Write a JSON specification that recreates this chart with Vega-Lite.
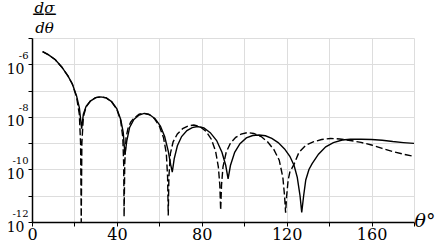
{
  "$schema": "https://vega.github.io/schema/vega-lite/v6.json",
  "width": 382,
  "height": 184,
  "autosize": "none",
  "padding": {"left": 32, "top": 38, "right": 28, "bottom": 20},
  "background": "white",
  "config": {"view": {"stroke": null}},
  "data": {"values": [
    {"x":5,"v":3.02e-6,"s":"solid"},{"x":8,"v":2.24e-6,"s":"solid"},{"x":11,"v":1.48e-6,"s":"solid"},{"x":14,"v":7.94e-7,"s":"solid"},{"x":17,"v":3.55e-7,"s":"solid"},{"x":19,"v":1.78e-7,"s":"solid"},{"x":21,"v":6.31e-8,"s":"solid"},{"x":22.3,"v":2.24e-8,"s":"solid"},{"x":23.4,"v":3.55e-9,"s":"solid"},{"x":24.2,"v":1.26e-8,"s":"solid"},{"x":25.5,"v":2.51e-8,"s":"solid"},{"x":27.5,"v":3.98e-8,"s":"solid"},{"x":30,"v":5.37e-8,"s":"solid"},{"x":32.4,"v":5.75e-8,"s":"solid"},{"x":35,"v":5.25e-8,"s":"solid"},{"x":37.5,"v":3.8e-8,"s":"solid"},{"x":40,"v":2.0e-8,"s":"solid"},{"x":41.8,"v":7.94e-9,"s":"solid"},{"x":43,"v":2.51e-9,"s":"solid"},{"x":43.8,"v":3.55e-10,"s":"solid"},{"x":44.7,"v":1.26e-9,"s":"solid"},{"x":46,"v":3.98e-9,"s":"solid"},{"x":48,"v":7.94e-9,"s":"solid"},{"x":50.5,"v":1.175e-8,"s":"solid"},{"x":52.8,"v":1.35e-8,"s":"solid"},{"x":55.5,"v":1.2e-8,"s":"solid"},{"x":58,"v":8.51e-9,"s":"solid"},{"x":60.5,"v":4.47e-9,"s":"solid"},{"x":62.5,"v":1.78e-9,"s":"solid"},{"x":64.2,"v":5.01e-10,"s":"solid"},{"x":65.3,"v":1.585e-10,"s":"solid"},{"x":66.1,"v":7.94e-11,"s":"solid"},{"x":67,"v":2.51e-10,"s":"solid"},{"x":68.5,"v":7.94e-10,"s":"solid"},{"x":70.5,"v":1.78e-9,"s":"solid"},{"x":73,"v":3.02e-9,"s":"solid"},{"x":75.5,"v":3.89e-9,"s":"solid"},{"x":77.9,"v":4.27e-9,"s":"solid"},{"x":81,"v":3.8e-9,"s":"solid"},{"x":84,"v":2.51e-9,"s":"solid"},{"x":87,"v":1.26e-9,"s":"solid"},{"x":89.5,"v":4.47e-10,"s":"solid"},{"x":91.3,"v":1.41e-10,"s":"solid"},{"x":92.4,"v":4.37e-11,"s":"solid"},{"x":93.5,"v":1.41e-10,"s":"solid"},{"x":95.5,"v":4.47e-10,"s":"solid"},{"x":98,"v":9.55e-10,"s":"solid"},{"x":101,"v":1.585e-9,"s":"solid"},{"x":104,"v":1.95e-9,"s":"solid"},{"x":107,"v":2.04e-9,"s":"solid"},{"x":110,"v":1.91e-9,"s":"solid"},{"x":113,"v":1.51e-9,"s":"solid"},{"x":116,"v":1.05e-9,"s":"solid"},{"x":119,"v":6.03e-10,"s":"solid"},{"x":121.5,"v":3.16e-10,"s":"solid"},{"x":123.5,"v":1.41e-10,"s":"solid"},{"x":125,"v":5.01e-11,"s":"solid"},{"x":126.3,"v":1.0e-11,"s":"solid"},{"x":127.1,"v":2.29e-12,"s":"solid"},{"x":128,"v":1.0e-11,"s":"solid"},{"x":129,"v":3.98e-11,"s":"solid"},{"x":130.5,"v":1.0e-10,"s":"solid"},{"x":132,"v":1.66e-10,"s":"solid"},{"x":135,"v":3.8e-10,"s":"solid"},{"x":138.4,"v":7.24e-10,"s":"solid"},{"x":142,"v":1.05e-9,"s":"solid"},{"x":146.2,"v":1.32e-9,"s":"solid"},{"x":150,"v":1.41e-9,"s":"solid"},{"x":155,"v":1.41e-9,"s":"solid"},{"x":160,"v":1.38e-9,"s":"solid"},{"x":165,"v":1.29e-9,"s":"solid"},{"x":170,"v":1.15e-9,"s":"solid"},{"x":175,"v":1.05e-9,"s":"solid"},{"x":180,"v":9.77e-10,"s":"solid"},
    {"x":5,"v":3.02e-6,"s":"dashed"},{"x":8,"v":2.24e-6,"s":"dashed"},{"x":11,"v":1.48e-6,"s":"dashed"},{"x":14,"v":7.94e-7,"s":"dashed"},{"x":17,"v":3.55e-7,"s":"dashed"},{"x":19,"v":1.78e-7,"s":"dashed"},{"x":21,"v":5.62e-8,"s":"dashed"},{"x":22.3,"v":1.26e-8,"s":"dashed"},{"x":22.9,"v":1.0e-9,"s":"dashed"},{"x":23.2,"v":1.0e-12,"s":"dashed"},{"x":23.5,"v":1.0e-9,"s":"dashed"},{"x":24.2,"v":1.0e-8,"s":"dashed"},{"x":25.5,"v":2.4e-8,"s":"dashed"},{"x":27.5,"v":3.98e-8,"s":"dashed"},{"x":30,"v":5.37e-8,"s":"dashed"},{"x":32.4,"v":5.75e-8,"s":"dashed"},{"x":35,"v":5.25e-8,"s":"dashed"},{"x":37.5,"v":3.72e-8,"s":"dashed"},{"x":40,"v":1.91e-8,"s":"dashed"},{"x":41.8,"v":7.08e-9,"s":"dashed"},{"x":42.8,"v":1.585e-9,"s":"dashed"},{"x":43.2,"v":1.585e-10,"s":"dashed"},{"x":43.4,"v":1.585e-12,"s":"dashed"},{"x":43.7,"v":1.585e-10,"s":"dashed"},{"x":44.3,"v":1.585e-9,"s":"dashed"},{"x":45.2,"v":3.55e-9,"s":"dashed"},{"x":46.5,"v":6.31e-9,"s":"dashed"},{"x":48,"v":8.91e-9,"s":"dashed"},{"x":50.5,"v":1.26e-8,"s":"dashed"},{"x":52.5,"v":1.38e-8,"s":"dashed"},{"x":55,"v":1.26e-8,"s":"dashed"},{"x":57.5,"v":8.91e-9,"s":"dashed"},{"x":60,"v":4.47e-9,"s":"dashed"},{"x":62,"v":1.585e-9,"s":"dashed"},{"x":63.3,"v":3.98e-10,"s":"dashed"},{"x":63.9,"v":5.01e-11,"s":"dashed"},{"x":64.2,"v":1.78e-12,"s":"dashed"},{"x":64.5,"v":5.01e-11,"s":"dashed"},{"x":65.2,"v":3.98e-10,"s":"dashed"},{"x":66.5,"v":1.12e-9,"s":"dashed"},{"x":68.5,"v":2.24e-9,"s":"dashed"},{"x":71,"v":3.55e-9,"s":"dashed"},{"x":73.5,"v":4.47e-9,"s":"dashed"},{"x":76.3,"v":4.9e-9,"s":"dashed"},{"x":79,"v":4.37e-9,"s":"dashed"},{"x":82,"v":2.82e-9,"s":"dashed"},{"x":84.5,"v":1.41e-9,"s":"dashed"},{"x":86.5,"v":5.01e-10,"s":"dashed"},{"x":87.8,"v":1.26e-10,"s":"dashed"},{"x":88.5,"v":2.51e-11,"s":"dashed"},{"x":88.9,"v":2.82e-12,"s":"dashed"},{"x":89.3,"v":2.51e-11,"s":"dashed"},{"x":90,"v":1.26e-10,"s":"dashed"},{"x":91.5,"v":4.47e-10,"s":"dashed"},{"x":93.5,"v":1.0e-9,"s":"dashed"},{"x":96,"v":1.66e-9,"s":"dashed"},{"x":98.5,"v":2.19e-9,"s":"dashed"},{"x":101.5,"v":2.51e-9,"s":"dashed"},{"x":104.5,"v":2.34e-9,"s":"dashed"},{"x":108,"v":1.78e-9,"s":"dashed"},{"x":111,"v":1.12e-9,"s":"dashed"},{"x":114,"v":5.62e-10,"s":"dashed"},{"x":116.5,"v":2.24e-10,"s":"dashed"},{"x":118.2,"v":5.01e-11,"s":"dashed"},{"x":119,"v":1.0e-11,"s":"dashed"},{"x":119.5,"v":2.24e-12,"s":"dashed"},{"x":120,"v":1.0e-11,"s":"dashed"},{"x":120.7,"v":3.98e-11,"s":"dashed"},{"x":121.5,"v":7.94e-11,"s":"dashed"},{"x":123.5,"v":1.585e-10,"s":"dashed"},{"x":125.8,"v":4.47e-10,"s":"dashed"},{"x":129,"v":8.32e-10,"s":"dashed"},{"x":132.5,"v":1.12e-9,"s":"dashed"},{"x":136.5,"v":1.38e-9,"s":"dashed"},{"x":140.7,"v":1.51e-9,"s":"dashed"},{"x":145,"v":1.445e-9,"s":"dashed"},{"x":150,"v":1.26e-9,"s":"dashed"},{"x":155,"v":1.07e-9,"s":"dashed"},{"x":160,"v":8.51e-10,"s":"dashed"},{"x":165,"v":6.31e-10,"s":"dashed"},{"x":170,"v":4.79e-10,"s":"dashed"},{"x":175,"v":3.8e-10,"s":"dashed"},{"x":180,"v":3.16e-10,"s":"dashed"}
  ]},
  "encoding": {
    "x": {"field": "x", "type": "quantitative",
      "scale": {"domain": [0, 180], "nice": false},
      "axis": {
        "values": [0,20,40,60,80,100,120,140,160,180],
        "labelExpr": "datum.value % 40 == 0 ? datum.label : ''",
        "grid": true, "gridColor": "#dddddd", "gridWidth": 1,
        "domainColor": "black", "domainWidth": 1.5,
        "tickColor": "black", "tickSize": 4, "tickWidth": 1,
        "labelFont": "DejaVu Serif", "labelFontSize": 16, "labelColor": "black",
        "labelPadding": 0, "labelFlush": false, "labelOverlap": false,
        "title": "θ°", "titleFont": "DejaVu Serif", "titleFontStyle": "italic",
        "titleFontWeight": "normal", "titleFontSize": 19, "titleColor": "black",
        "titleX": 382, "titleY": 4, "titleAlign": "left", "titleBaseline": "alphabetic"
      }
    }
  },
  "layer": [
    {
      "transform": [{"filter": "datum.s == 'dashed'"}],
      "mark": {"type": "line", "color": "black", "strokeWidth": 1.4, "strokeDash": [7, 3], "clip": true},
      "encoding": {
        "y": {"field": "v", "type": "quantitative",
          "scale": {"type": "log", "domain": [1e-12, 1e-5], "nice": false},
          "axis": {
            "orient": "left",
            "values": [1e-12, 1e-10, 1e-8, 1e-6],
            "labelExpr": "'-' + (-round(log(datum.value)/LN10))",
            "grid": false, "domain": false, "ticks": false, "tickSize": 0,
            "labelFont": "DejaVu Serif", "labelFontSize": 10, "labelColor": "black",
            "labelAlign": "right", "labelBaseline": "middle",
            "labelPadding": 4, "labelOffset": -9, "labelFlush": false, "labelOverlap": false,
            "title": "——", "titleFont": "DejaVu Sans", "titleFontSize": 12, "titleFontWeight": "bold",
            "titleColor": "black", "titleAngle": 0, "titleX": 12, "titleY": -24.5,
            "titleAlign": "center", "titleBaseline": "middle"
          }
        }
      }
    },
    {
      "transform": [{"filter": "datum.s == 'solid'"}],
      "mark": {"type": "line", "color": "black", "strokeWidth": 1.4, "clip": true},
      "encoding": {
        "y": {"field": "v", "type": "quantitative",
          "scale": {"type": "log", "domain": [1e-12, 1e-5], "nice": false},
          "axis": {
            "orient": "left",
            "values": [1e-12, 1e-11, 1e-10, 1e-9, 1e-8, 1e-7, 1e-6, 1e-5],
            "labelExpr": "(round(log(datum.value)/LN10) % 2 == 0 && round(log(datum.value)/LN10) < -5.5) ? (round(log(datum.value)/LN10) <= -10 ? '10\u2009\u200a' : '10') : ''",
            "grid": true, "gridColor": "#dddddd", "gridWidth": 1,
            "domainColor": "black", "domainWidth": 1.5,
            "tickColor": "black", "tickSize": 4, "tickWidth": 1,
            "labelFont": "DejaVu Serif", "labelFontSize": 14, "labelColor": "black",
            "labelAlign": "right", "labelBaseline": "middle",
            "labelPadding": 4, "labelOffset": 5, "labelFlush": false, "labelOverlap": false,
            "title": ["dσ", "dθ"], "titleFont": "DejaVu Serif", "titleFontStyle": "italic",
            "titleFontWeight": "normal", "titleFontSize": 15, "titleColor": "black",
            "titleAngle": 0, "titleX": 12, "titleY": -37.5, "titleLineHeight": 19.5,
            "titleAlign": "center", "titleBaseline": "top"
          }
        }
      }
    }
  ],
  "resolve": {"axis": {"y": "independent"}, "scale": {"y": "shared"}}
}
